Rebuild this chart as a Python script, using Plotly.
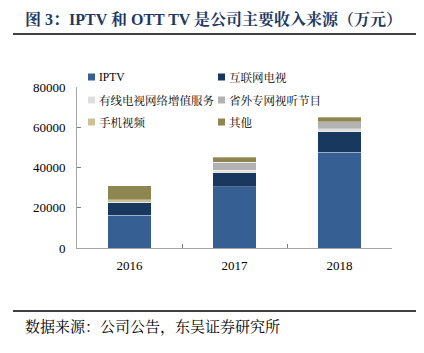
import plotly.graph_objects as go

years = ["2016", "2017", "2018"]
series_names = ["IPTV", "互联网电视", "有线电视网络增值服务", "省外专网视听节目", "手机视频", "其他"]
iptv = [16200, 30400, 47700]
internet_tv = [6450, 7000, 9950]
cable_vas = [0, 1300, 1500]
province_net = [0, 4000, 3600]
mobile_video = [1300, 0, 0]
others = [7000, 2300, 2150]
colors = ["#365F93", "#183860", "#DEDEDE", "#B2B2B2", "#CBC196", "#8E8651"]
yticks = [0, 20000, 40000, 60000, 80000]

serif = "Times New Roman, Liberation Serif, Noto Serif CJK SC, Noto Sans CJK SC, serif"

# plot-area geometry in pixels (for placing decorations)
L, R, T, B = 77, 392, 87, 248
PW, PH = R - L, B - T


def px(xp):
    return (xp - L) / PW


def py(yp):
    return (B - yp) / PH


fig = go.Figure()
for name, vals, col in zip(series_names,
                           [iptv, internet_tv, cable_vas, province_net, mobile_video, others],
                           colors):
    fig.add_trace(go.Bar(x=years, y=vals, name=name, showlegend=False,
                         marker=dict(color=col, line=dict(width=0.6, color="rgba(255,255,255,0.5)"))))

fig.update_layout(
    barmode="stack",
    bargap=0.59,
    width=424, height=353,
    margin=dict(l=L, r=424 - R, t=T, b=353 - B),
    plot_bgcolor="white", paper_bgcolor="white",
    font=dict(family=serif, size=12, color="#000000"),
    showlegend=False,
    xaxis=dict(showline=True, linecolor="#A6A6A6", linewidth=1, ticks="inside",
               tickson="boundaries", ticklen=4, tickcolor="#808080",
               tickfont=dict(size=13, family=serif), showgrid=False,
               ticklabelstandoff=5),
    yaxis=dict(range=[0, 80000], tickvals=yticks, tickformat="d", showline=True,
               linecolor="#A6A6A6", linewidth=1, ticks="inside", ticklen=4,
               tickcolor="#808080", tickfont=dict(size=13, family=serif),
               showgrid=False, zeroline=False, ticklabelstandoff=8),
)

# legend (two columns, three rows)
col_x = [88, 218]
row_y = [77, 100, 122]
for i, (name, col) in enumerate(zip(series_names, colors)):
    sx = col_x[i % 2]
    sy = row_y[i // 2]
    fig.add_shape(type="rect", xref="paper", yref="paper",
                  x0=px(sx), x1=px(sx + 7), y0=py(sy + 3.5), y1=py(sy - 3.5),
                  fillcolor=col, line=dict(width=0))
    fig.add_annotation(text=name, xref="paper", yref="paper",
                       x=px(sx + 9), y=py(sy), xanchor="left", yanchor="middle",
                       showarrow=False, font=dict(size=11.5, family=serif, color="#000000"))

fig.add_annotation(text="<b>图 3：IPTV 和 OTT TV 是公司主要收入来源（万元）</b>",
                   xref="paper", yref="paper", x=px(23), y=py(19.5),
                   xanchor="left", yanchor="middle", showarrow=False,
                   font=dict(size=16, color="#1F3864", family=serif))
fig.add_shape(type="line", xref="paper", yref="paper",
              x0=px(13), x1=px(416), y0=py(34), y1=py(34),
              line=dict(color="#000000", width=1.5))
fig.add_shape(type="line", xref="paper", yref="paper",
              x0=px(13), x1=px(416), y0=py(311), y1=py(311),
              line=dict(color="#000000", width=1.5))
fig.add_annotation(text="数据来源：公司公告，东吴证券研究所",
                   xref="paper", yref="paper", x=px(23), y=py(327),
                   xanchor="left", yanchor="middle", showarrow=False,
                   font=dict(size=15, color="#000000", family=serif))

fig.write_html("out.html")
